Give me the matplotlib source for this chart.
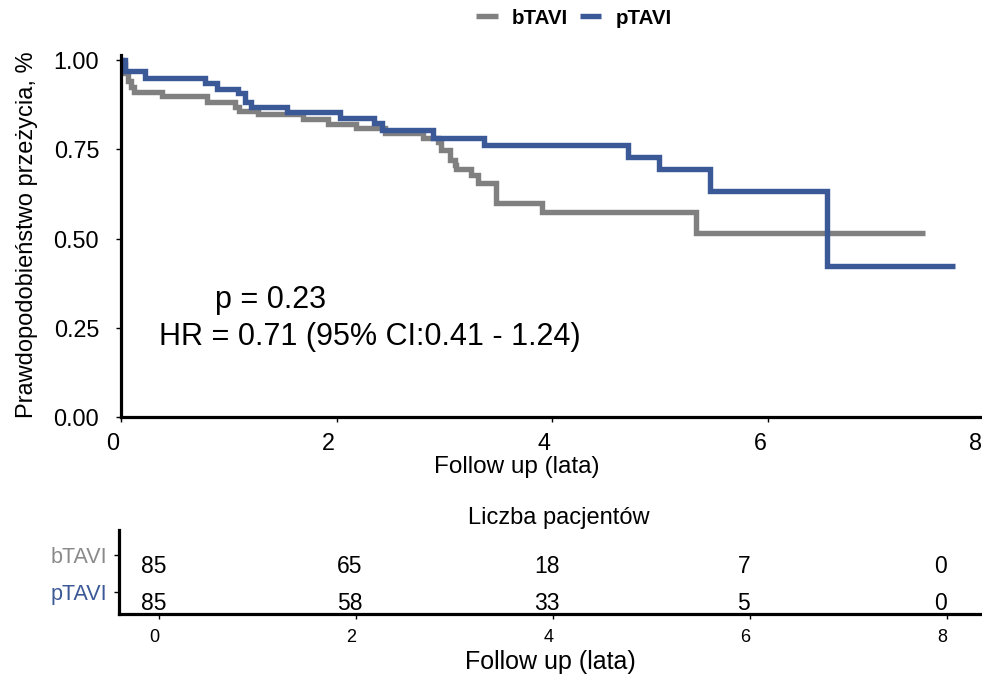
import matplotlib
matplotlib.use("Agg")
import matplotlib.pyplot as plt
from matplotlib.transforms import ScaledTranslation

plt.rcParams["font.family"] = ["Liberation Sans", "DejaVu Sans"]

# Kaplan-Meier step data
groups = ["bTAVI", "pTAVI"]
colors = ["#808080", "#3B5897"]

btavi_time = [0.0, 0.01, 0.04, 0.07, 0.10, 0.12, 0.38, 0.80, 1.06, 1.10, 1.27, 1.69,
              1.92, 2.18, 2.45, 2.80, 2.94, 2.97, 3.05, 3.095, 3.11, 3.25, 3.31,
              3.48, 3.90, 5.33]
btavi_surv = [1.0, 0.988, 0.965, 0.94, 0.925, 0.911, 0.899, 0.883, 0.869, 0.858, 0.849, 0.835,
              0.821, 0.810, 0.797, 0.781, 0.771, 0.748, 0.720, 0.706, 0.694, 0.678, 0.655,
              0.599, 0.575, 0.515]
btavi_end = 7.45

ptavi_time = [0.0, 0.04, 0.225, 0.78, 0.89, 1.09, 1.15, 1.21, 1.54, 2.03, 2.35, 2.42,
              2.89, 3.37, 4.70, 4.99, 5.46, 6.55]
ptavi_surv = [1.0, 0.970, 0.949, 0.935, 0.918, 0.907, 0.883, 0.869, 0.855, 0.839, 0.823, 0.804,
              0.783, 0.762, 0.729, 0.694, 0.633, 0.423]
ptavi_end = 7.73

# numbers at risk
risk_times = [0, 2, 4, 6, 8]
risk_btavi = [85, 65, 18, 7, 0]
risk_ptavi = [85, 58, 33, 5, 0]

p_text = "p = 0.23"
hr_text = "HR = 0.71 (95% CI:0.41 - 1.24)"

fig = plt.figure(figsize=(9.82, 6.77), dpi=100)

# main survival panel
ax = fig.add_axes([0.1229, 0.3840, 0.8791, 0.5347])
lines = []
for t, s, end, c, g in [(btavi_time, btavi_surv, btavi_end, colors[0], groups[0]),
                        (ptavi_time, ptavi_surv, ptavi_end, colors[1], groups[1])]:
    ln, = ax.step(t + [end], s + [s[-1]], where="post", color=c, lw=3.9,
                  label=g, solid_capstyle="butt", solid_joinstyle="miter")
    lines.append(ln)

ax.set_xlim(0, 8)
ax.set_ylim(0, 1.014)
ax.set_xticks([0, 2, 4, 6, 8])
ax.set_yticks([0, 0.25, 0.5, 0.75, 1.0])
ax.set_yticklabels(["0.00", "0.25", "0.50", "0.75", "1.00"])
for side in ["top", "right"]:
    ax.spines[side].set_visible(False)
for side in ["left", "bottom"]:
    ax.spines[side].set_linewidth(2.3)
ax.tick_params(axis="both", labelsize=16.8, length=3.5, width=1, direction="out")
ax.tick_params(axis="y", pad=12)
ax.tick_params(axis="x", pad=7.5)
shift = ScaledTranslation(-8 / 100, 0, fig.dpi_scale_trans)
for lab in ax.get_xticklabels():
    lab.set_transform(lab.get_transform() + shift)

ax.set_ylabel("Prawdopodobieństwo przeżycia, %", fontsize=17)
ax.yaxis.label.set_va("center")
ax.yaxis.set_label_coords(-0.1085, 0.503)
ax.set_xlabel("Follow up (lata)", fontsize=17.5)
ax.xaxis.label.set_va("center")
ax.xaxis.set_label_coords(0.459, -0.138)

ax.text(1.39, 0.328, p_text, fontsize=22, ha="center", va="center")
ax.text(2.31, 0.224, hr_text, fontsize=22, ha="center", va="center")

fig.legend(handles=lines, loc="center", bbox_to_anchor=(574 / 982, 1 - 18 / 677),
           ncol=2, frameon=False, prop={"weight": "bold", "size": 14.8},
           handlelength=1.05, handletextpad=0.7, columnspacing=0.55,
           borderaxespad=0, borderpad=0)

# risk table
tax = fig.add_axes([0.1215, 0.0931, 0.8785, 0.1241])
tax.set_xlim(-0.406, 8.36)
tax.set_ylim(0.42, 2.67)
row_y = [2, 1]
for y, counts in zip(row_y, [risk_btavi, risk_ptavi]):
    for t, n in zip(risk_times, counts):
        tax.annotate(str(n), (t, y), xytext=(-4.3, -8), textcoords="offset points",
                     ha="center", va="center", fontsize=16.5)
tax.set_xticks(risk_times)
tax.set_yticks(row_y)
tax.set_yticklabels(groups)
for lab, c in zip(tax.get_yticklabels(), ["#8a8a8a", colors[1]]):
    lab.set_color(c)
for side in ["top", "right"]:
    tax.spines[side].set_visible(False)
for side in ["left", "bottom"]:
    tax.spines[side].set_linewidth(2.3)
tax.tick_params(axis="x", labelsize=13, length=3.5, width=1, pad=7)
tax.tick_params(axis="y", labelsize=15.5, length=3.5, width=1, pad=5)
tshift = ScaledTranslation(-4.5 / 100, 0, fig.dpi_scale_trans)
for lab in tax.get_xticklabels():
    lab.set_transform(lab.get_transform() + tshift)
tax.set_xlabel("Follow up (lata)", fontsize=18)
tax.xaxis.label.set_va("center")
tax.xaxis.set_label_coords(0.5, -0.571)

fig.text(559 / 982, 1 - 518 / 677, "Liczba pacjentów", fontsize=17,
         ha="center", va="center")

fig.savefig("out.png", dpi=100)
